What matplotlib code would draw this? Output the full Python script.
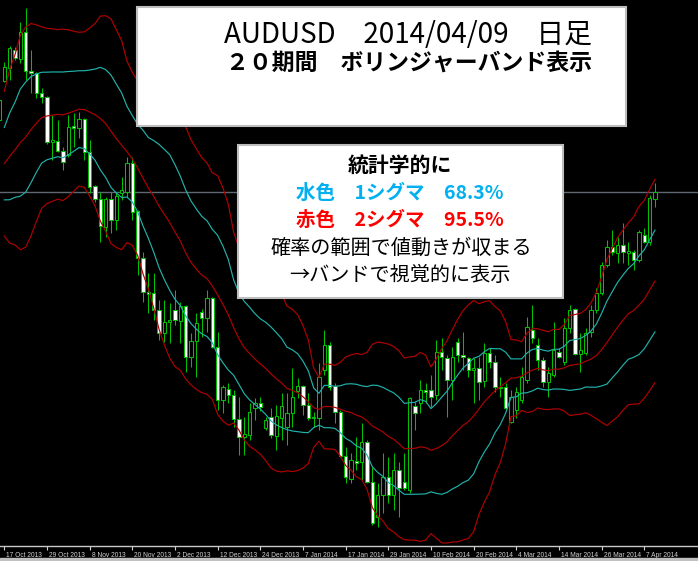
import numpy as np
import pandas as pd
import matplotlib
matplotlib.use("Agg")
import matplotlib.pyplot as plt
import matplotlib.transforms as mtransforms
from matplotlib.patches import Rectangle

plt.rcParams['font.family'] = ['Noto Sans CJK JP', 'DejaVu Sans']

# AUDUSD daily bars, 16 Oct 2013 .. 9 Apr 2014
opens = [
    .9518, .9601, .9629, .9668, .9648, .9706, .9623, .9619, .9576, .9567,
    .9472, .9474, .9452, .9444, .9506, .9501, .9521, .9450, .9378, .9350,
    .9291, .9350, .9305, .9363, .9365, .9427, .9325, .9224, .9152, .9150,
    .9114, .9065, .9088, .9114, .9090, .9122, .9014, .9048, .9109, .9097,
    .9139, .9035, .8922, .8945, .8933, .8881, .8843, .8847, .8905, .8916,
    .8862, .8886, .8845, .8884, .8864, .8894, .8941, .8952, .8911, .8886,
    .8884, .8986, .9039, .8952, .8896, .8803, .8754, .8792, .8790, .8833,
    .8747, .8673, .8720, .8758, .8720, .8773, .8747, .8730, .8909, .8916,
    .8943, .8943, .8933, .9024, .9011, .8965, .9046, .9018, .9011, .8986,
    .8990, .8962, .9022, .9003, .8950, .8950, .8875, .8901, .8922, .8965,
    .9071, .9039, .9007, .8960, .8975, .9024, .9003, .9075, .9116, .9020,
    .9022, .9067, .9114, .9150, .9210, .9248, .9235, .9252, .9235, .9237,
    .9220, .9273, .9259, .9350,
]
highs = [
    .9572, .9642, .9676, .9674, .9727, .9757, .9668, .9621, .9587, .9570,
    .9529, .9518, .9461, .9529, .9533, .9535, .9523, .9476, .9380, .9365,
    .9354, .9365, .9365, .9397, .9440, .9440, .9327, .9237, .9193, .9193,
    .9135, .9135, .9129, .9156, .9131, .9124, .9065, .9107, .9116, .9156,
    .9141, .9067, .8954, .8958, .8943, .8928, .8886, .8916, .8926, .8928,
    .8886, .8905, .8911, .8937, .8937, .8990, .8969, .8954, .8937, .8896,
    .9001, .9071, .9046, .8958, .8901, .8822, .8809, .8843, .8873, .8837,
    .8779, .8745, .8809, .8801, .8809, .8790, .8809, .8928, .8918, .8965,
    .8958, .8975, .9050, .9054, .9018, .9035, .9054, .9067, .9014, .9011,
    .9014, .9043, .9033, .9018, .8971, .8958, .8943, .8950, .8992, .9099,
    .9124, .9054, .9014, .8992, .9088, .9033, .9097, .9124, .9118, .9065,
    .9075, .9124, .9161, .9216, .9263, .9284, .9269, .9299, .9259, .9242,
    .9284, .9288, .9359, .9384,
]
lows = [
    .9508, .9599, .9604, .9646, .9640, .9604, .9576, .9565, .9555, .9467,
    .9433, .9450, .9412, .9440, .9461, .9480, .9433, .9363, .9344, .9259,
    .9269, .9278, .9284, .9348, .9354, .9305, .9188, .9131, .9107, .9092,
    .9050, .9046, .9043, .9082, .9043, .8982, .8992, .8971, .9056, .9067,
    .9033, .8901, .8894, .8916, .8864, .8805, .8805, .8837, .8879, .8899,
    .8858, .8841, .8816, .8837, .8826, .8864, .8926, .8890, .8879, .8864,
    .8858, .8975, .8943, .8873, .8801, .8745, .8745, .8773, .8752, .8745,
    .8656, .8651, .8681, .8703, .8688, .8673, .8730, .8724, .8858, .8894,
    .8916, .8907, .8922, .8986, .8886, .8922, .9003, .8986, .8971, .8916,
    .8922, .8950, .8990, .8939, .8928, .8901, .8873, .8884, .8916, .8958,
    .9043, .8986, .8950, .8928, .8971, .9011, .8997, .9065, .9018, .8982,
    .9018, .9056, .9107, .9146, .9205, .9231, .9214, .9214, .9210, .9199,
    .9216, .9256, .9252, .9333,
]
closes = [
    .9561, .9631, .9672, .9650, .9706, .9623, .9619, .9576, .9567, .9472,
    .9476, .9452, .9429, .9503, .9501, .9521, .9450, .9376, .9350, .9293,
    .9350, .9305, .9357, .9369, .9427, .9322, .9224, .9152, .9148, .9114,
    .9065, .9088, .9092, .9092, .9122, .9014, .9048, .9086, .9097, .9139,
    .9035, .8922, .8950, .8933, .8881, .8843, .8850, .8896, .8916, .8907,
    .8879, .8847, .8888, .8909, .8894, .8928, .8952, .8911, .8884, .8884,
    .8971, .9039, .8950, .8896, .8803, .8758, .8794, .8788, .8833, .8747,
    .8660, .8720, .8758, .8720, .8773, .8735, .8735, .8926, .8894, .8943,
    .8939, .8928, .9024, .9014, .8965, .9014, .9018, .9014, .8986, .8990,
    .8960, .9022, .9003, .8950, .8948, .8905, .8928, .8939, .8971, .9077,
    .9054, .9007, .8960, .8979, .9029, .9014, .9075, .9114, .9020, .9029,
    .9065, .9114, .9150, .9210, .9248, .9237, .9252, .9237, .9239, .9220,
    .9280, .9259, .9352, .9365,
]
# closes of the bars left of the screen (20 Sep .. 15 Oct 2013), only to start the bands
warmup_closes = [.9361, .9369, .9399, .9391, .9301, .9301, .9331, .9399, .9440,
                 .9420, .9450, .9431, .9420, .9431, .9469, .9480, .9461, .9461]

tick_labels = ["17 Oct 2013", "29 Oct 2013", "8 Nov 2013", "20 Nov 2013",
               "2 Dec 2013", "12 Dec 2013", "24 Dec 2013", "7 Jan 2014",
               "17 Jan 2014", "29 Jan 2014", "10 Feb 2014", "20 Feb 2014",
               "4 Mar 2014", "14 Mar 2014", "26 Mar 2014", "7 Apr 2014"]

PERIOD = 20
GREEN = '#00C000'
BAND_RED = '#B00000'
BAND_CYAN = '#20B2AA'

o = np.array(opens)
h = np.array(highs)
l = np.array(lows)
c = np.array(closes)
x = np.arange(len(c)) - 1          # bar 0 = 17 Oct 2013

# bollinger bands (population std like MT4)
s = pd.Series(warmup_closes + closes)
mid = s.rolling(PERIOD).mean().to_numpy()[-len(c):]
sd = s.rolling(PERIOD).std(ddof=0).to_numpy()[-len(c):]

fig = plt.figure(figsize=(6.98, 5.61), dpi=100, facecolor='black')
ax = fig.add_axes([0, 15 / 561, 1, 546 / 561], facecolor='black')

# current bid line
ax.axhline(c[-1], color='#5E6873', lw=1.0, zorder=1)

# candles: wick, then body (bull = black body, bear = white body)
ax.vlines(x, l, h, color=GREEN, lw=0.75, zorder=2)
bull = c >= o
ax.bar(x[bull], (c - o)[bull], bottom=o[bull], width=0.62, color='black',
       edgecolor=GREEN, linewidth=0.75, zorder=2.5)
ax.bar(x[~bull], (c - o)[~bull], bottom=o[~bull], width=0.62, color='white',
       edgecolor=GREEN, linewidth=0.75, zorder=2.5)

# bands
for k, col in [(2, BAND_RED), (1, BAND_CYAN)]:
    ax.plot(x, mid + k * sd, color=col, lw=0.85, zorder=3)
    ax.plot(x, mid - k * sd, color=col, lw=0.85, zorder=3)
ax.plot(x, mid, color=BAND_RED, lw=0.85, zorder=3)

ax.set_xlim(-0.81, 130.07)
ax.set_ylim(0.8611, 0.9774)
ax.set_yticks([])
ax.set_xticks(np.arange(0, 8 * len(tick_labels), 8))
ax.set_xticklabels(tick_labels)
ax.tick_params(axis='x', colors='#D0D0D0', labelsize=4.8, length=3, width=0.8,
               pad=1.5, direction='out')
offset = mtransforms.ScaledTranslation(1.5 / 72, 0, fig.dpi_scale_trans)
for lbl in ax.get_xticklabels():
    lbl.set_ha('left')
    lbl.set_fontfamily('Liberation Sans')
    lbl.set_transform(lbl.get_transform() + offset)
for side in ['top', 'right', 'left']:
    ax.spines[side].set_visible(False)
ax.spines['bottom'].set_color('#C8C8C8')
ax.spines['bottom'].set_linewidth(1.0)

# overlay in pixel units for the text boxes
ov = fig.add_axes([0, 0, 1, 1], facecolor='none')
ov.set_xlim(0, 698)
ov.set_ylim(561, 0)
ov.axis('off')
ov.add_patch(Rectangle((0, 558), 698, 3, color='#C0C0C0'))

ov.add_patch(Rectangle((137, 7), 489, 119, facecolor='white',
                       edgecolor='#BEBEBE', lw=1.5))
ov.text(408, 35, "AUDUSD\u30002014/04/09\u3000日足", ha='center', va='center',
        fontsize=20, color='black')
ov.text(409, 63, "２０期間\u3000ボリンジャーバンド表示", ha='center', va='center',
        fontsize=16.5, fontweight='bold', color='black')

ov.add_patch(Rectangle((238, 145), 325, 153, facecolor='white',
                       edgecolor='#BEBEBE', lw=1.5))
ov.text(400, 165, "統計学的に", ha='center', va='center', fontsize=15,
        fontweight='bold', color='black')
ov.text(400, 193, "水色\u30001シグマ\u300068.3%", ha='center', va='center',
        fontsize=14, fontweight='bold', color='#00B0F0')
ov.text(400, 220, "赤色\u30002シグマ\u300095.5%", ha='center', va='center',
        fontsize=14, fontweight='bold', color='#FF0000')
ov.text(401, 248, "確率の範囲で値動きが収まる", ha='center', va='center',
        fontsize=14.5, color='black')
ov.text(400, 275, "→バンドで視覚的に表示", ha='center', va='center',
        fontsize=14.5, color='black')

fig.savefig("out.png", dpi=100, facecolor='black')
